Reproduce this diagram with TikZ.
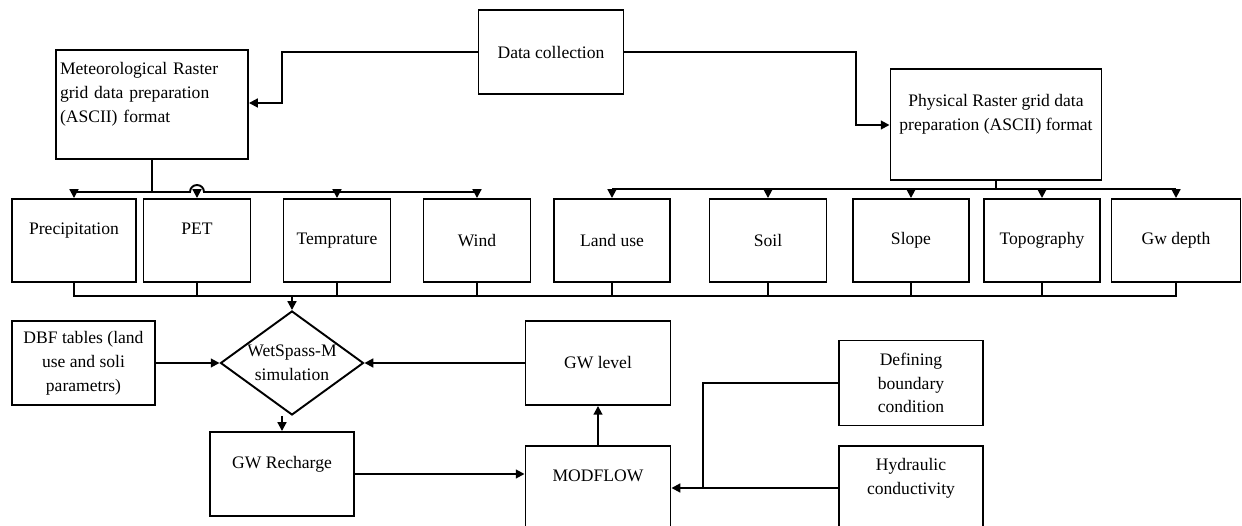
\documentclass[tikz,border=0pt]{standalone}
\usepackage{fontspec}
\setmainfont{Liberation Serif}
\usetikzlibrary{shapes.geometric,arrows.meta}

\begin{document}
\begin{tikzpicture}[x=0.02cm,y=-0.02cm,
  line width=1.1pt,
  font=\rmfamily\fontsize{10}{13.6}\selectfont,
  blk/.style 2 args={draw, inner sep=0pt, align=center, minimum width=#1*0.02cm, minimum height=#2*0.02cm},
  dec/.style={draw, shape=diamond, inner sep=0pt, minimum width=143*0.02cm, minimum height=104*0.02cm},
  arr/.style={-{Triangle[length=5pt,width=5pt]}}]
\useasboundingbox (0,0) rectangle (1242,526);
\clip (0,0) rectangle (1242,526);

% top level
\node[blk={145}{84}] (data) at (551,52) {Data collection};
\node[blk={192}{109}, text width=3.68cm, inner xsep=0.08cm, align=left] (met) at (152,104.5) {Meteorological Raster\\grid data preparation\\(ASCII) format\\\mbox{}};
\node[blk={211}{111}] (phys) at (996,124.5) {Physical Raster grid data\\preparation (ASCII) format\\\mbox{}};

% raster layers
\node[blk={124}{83}] (prec) at (74,240.5) {Precipitation\\\mbox{}};
\node[blk={107}{83}] (pet) at (197,240.5) {PET\\\mbox{}};
\node[blk={107}{83}] (temp) at (337,240.5) {Temprature};
\node[blk={107}{83}] (wind) at (477,240.5) {Wind};
\node[blk={116}{83}] (land) at (612,240.5) {Land use};
\node[blk={117}{83}] (soil) at (768,240.5) {Soil};
\node[blk={116}{83}] (slope) at (911,240.5) {Slope};
\node[blk={116}{83}] (topo) at (1042,240.5) {Topography};
\node[blk={129}{83}] (gwd) at (1176,240.5) {Gw depth};

% models
\node[blk={143}{84}] (dbf) at (83.5,363) {DBF tables (land\\use and soli\\parametrs)};
\node[dec, label={[align=center]center:WetSpass-M\\simulation}] (sim) at (292,363) {};
\node[blk={144}{84}] (rech) at (282,474) {GW Recharge\\\mbox{}};
\node[blk={145}{84}] (lev) at (598,363) {GW level};
\node[blk={145}{84}] (mod) at (598,488) {MODFLOW\\\mbox{}};
\node[blk={144}{85}] (bnd) at (911,383) {Defining\\boundary\\condition};
\node[blk={144}{84}] (hyd) at (911,488) {Hydraulic\\conductivity\\\mbox{}};

% data collection split
\coordinate (lbend) at (282,103);
\coordinate (rbend) at (856,125);
\draw[arr] (data.west) -| (lbend) -- (lbend -| met.east);
\draw[arr] (data.east) -| (rbend) -- (rbend -| phys.west);

% meteorological bus
\coordinate (mbus) at (152,192);
\draw (prec.north |- mbus) -- (mbus) -- (190,192) arc[start angle=180, end angle=360, radius=7] -- (wind.north |- mbus);
\draw (met.south) -- (mbus);
\draw[arr] (prec.north |- mbus) -- (prec.north);
\draw[arr] (pet.north |- mbus) -- (pet.north);
\draw[arr] (temp.north |- mbus) -- (temp.north);
\draw[arr] (wind.north |- mbus) -- (wind.north);

% physical bus
\coordinate (pbus) at (996,189);
\draw (phys.south) -- (pbus);
\draw (land.north |- pbus) -- (gwd.north |- pbus);
\draw[arr] (land.north |- pbus) -- (land.north);
\draw[arr] (soil.north |- pbus) -- (soil.north);
\draw[arr] (slope.north |- pbus) -- (slope.north);
\draw[arr] (topo.north |- pbus) -- (topo.north);
\draw[arr] (gwd.north |- pbus) -- (gwd.north);

% collecting bus
\coordinate (bbus) at (292,296);
\draw (prec.south) -- (prec.south |- bbus) -- (gwd.south |- bbus) -- (gwd.south);
\draw (pet.south) -- (pet.south |- bbus);
\draw (temp.south) -- (temp.south |- bbus);
\draw (wind.south) -- (wind.south |- bbus);
\draw (land.south) -- (land.south |- bbus);
\draw (soil.south) -- (soil.south |- bbus);
\draw (slope.south) -- (slope.south |- bbus);
\draw (topo.south) -- (topo.south |- bbus);
\draw[arr] (bbus) -- (sim.north);

% simulation loop
\draw[arr] (dbf.east) -- (sim.west);
\draw[arr] (lev.west) -- (sim.east);
\draw[arr] (sim.south -| rech.north) -- (rech.north);
\draw[arr] (rech.east) -- (rech.east -| mod.west);
\draw[arr] (mod.north) -- (lev.south);
\coordinate (jn) at (703,488);
\draw (bnd.west) -| (jn);
\draw[arr] (hyd.west) -- (mod.east);
\end{tikzpicture}
\end{document}
